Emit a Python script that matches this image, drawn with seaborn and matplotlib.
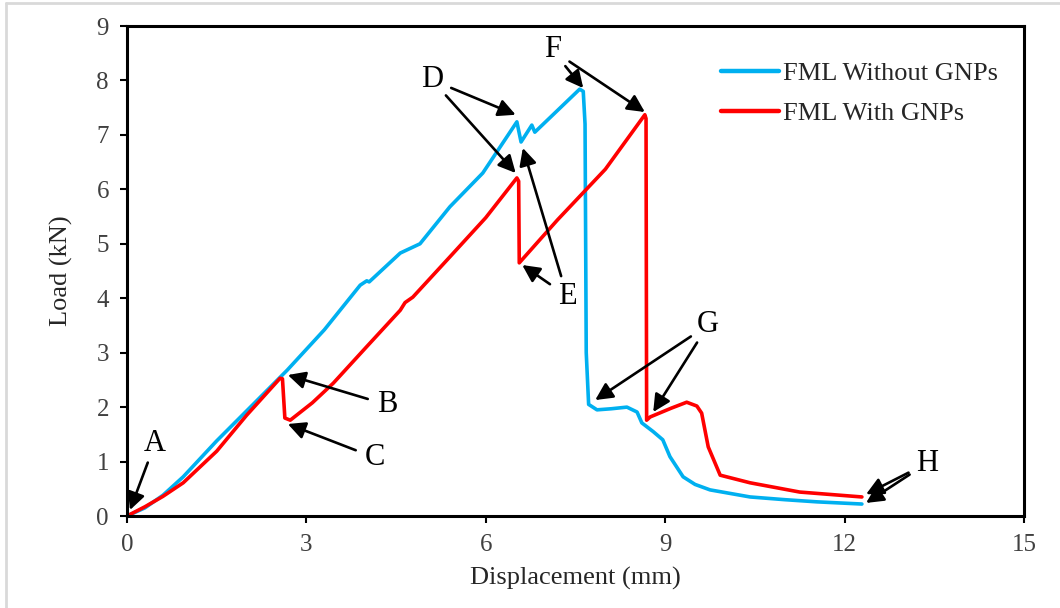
""" Load-displacement curves of FML specimens with and without GNPs """
import matplotlib

matplotlib.use("Agg")
import matplotlib.pyplot as plt
import matplotlib.lines as mlines
import pandas as pd
import seaborn as sns

# Curve points (displacement mm, load kN)
disp_without = [0.0, 0.3, 0.6, 0.94, 1.5, 2.1, 2.68, 3.3, 3.9, 4.01, 4.05, 4.57,
                4.9, 5.40, 5.95, 6.52, 6.59, 6.77, 6.82, 7.2, 7.57, 7.63, 7.66,
                7.68, 7.72, 7.86, 8.10, 8.36, 8.53, 8.61, 8.80, 8.96, 9.08, 9.30,
                9.50, 9.75, 10.42, 11.0, 11.54, 12.29]
load_without = [0.0, 0.15, 0.38, 0.72, 1.38, 2.04, 2.68, 3.42, 4.24, 4.32, 4.30, 4.83,
                5.00, 5.68, 6.30, 7.24, 6.87, 7.18, 7.05, 7.45, 7.84, 7.80, 7.20,
                3.00, 2.05, 1.95, 1.97, 2.00, 1.91, 1.71, 1.55, 1.40, 1.09, 0.72,
                0.58, 0.48, 0.35, 0.30, 0.26, 0.22]

disp_with = [0.0, 0.3, 0.6, 0.94, 1.5, 2.0, 2.56, 2.60, 2.64, 2.73, 3.10, 3.45,
             4.0, 4.57, 4.65, 4.78, 5.40, 6.0, 6.52, 6.55, 6.56, 7.2, 8.0, 8.66,
             8.68, 8.69, 8.75, 9.10, 9.36, 9.53, 9.61, 9.72, 9.92, 10.42, 11.25,
             12.29]
load_with = [0.0, 0.17, 0.36, 0.61, 1.19, 1.85, 2.53, 2.52, 1.80, 1.76, 2.08, 2.44,
             3.10, 3.78, 3.92, 4.02, 4.76, 5.48, 6.21, 6.15, 4.65, 5.44, 6.37, 7.37,
             7.30, 1.76, 1.82, 1.98, 2.09, 2.02, 1.89, 1.27, 0.75, 0.61, 0.44,
             0.35]

series_names = ["FML Without GNPs", "FML With GNPs"]

# Marker letters: (label, text position, arrow tips)
marker_letters = [
    ("A", (0.47, 1.34), [(0.05, 0.11)]),
    ("B", (4.36, 2.04), [(2.69, 2.59)]),
    ("C", (4.15, 1.07), [(2.69, 1.69)]),
    ("D", (5.10, 8.01), [(6.50, 7.37), (6.50, 6.30)]),
    ("E", (7.36, 4.04), [(6.62, 6.76), (6.61, 4.61)]),
    ("F", (7.11, 8.56), [(7.63, 7.86), (8.66, 7.42)]),
    ("G", (9.72, 3.51), [(7.83, 2.13), (8.80, 1.91)]),
    ("H", (13.38, 0.97), [(12.36, 0.40), (12.36, 0.24)]),
]

df = pd.concat([
    pd.DataFrame({"disp": disp_without, "load": load_without, "series": series_names[0]}),
    pd.DataFrame({"disp": disp_with, "load": load_with, "series": series_names[1]}),
], ignore_index=True)

sns.set_style("white")
plt.rcParams["font.family"] = ["Liberation Serif", "DejaVu Serif"]

fig = plt.figure(figsize=(10.6, 6.08), dpi=100)
ax = fig.add_axes([0.1198, 0.1513, 0.8462, 0.8059])

sns.lineplot(
    data=df, x="disp", y="load", hue="series", sort=False, estimator=None,
    palette={series_names[0]: "#00B0F0", series_names[1]: "#FF0000"},
    linewidth=2.6, ax=ax,
)

ax.set_xlim(0, 15)
ax.set_ylim(0, 9)
ax.set_xticks(range(0, 16, 3))
ax.set_yticks(range(0, 10))
ax.tick_params(axis="both", direction="out", length=5, width=1.5, colors="black",
               labelsize=18, labelcolor="#404040", pad=8, bottom=True, left=True,
               right=False, top=False)
for side in ["left", "right", "top", "bottom"]:
    ax.spines[side].set_visible(True)
    ax.spines[side].set_color("black")
    ax.spines[side].set_linewidth(2.2)

ax.set_xlabel("Displacement (mm)", fontsize=19, color="#262626", labelpad=8)
ax.set_ylabel("Load (kN)", fontsize=19, color="#262626", labelpad=17)

leg = ax.legend(loc="upper left", bbox_to_anchor=(0.636, 0.975), frameon=False,
                fontsize=19, handlelength=2.2, handletextpad=0.15, labelspacing=0.6)
for line in leg.get_lines():
    line.set_linewidth(3.2)
for t in leg.get_texts():
    t.set_color("#262626")

for label, text_pos, tips in marker_letters:
    ax.text(text_pos[0], text_pos[1], label, fontsize=22, color="black",
            ha="center", va="center")
    for tip in tips:
        ax.annotate("", xy=tip, xytext=text_pos,
                    arrowprops=dict(arrowstyle="-|>", color="black", lw=1.9,
                                    mutation_scale=26, shrinkA=15, shrinkB=0))

# Light grey frame around the picture
fig.add_artist(mlines.Line2D([0.006, 0.006], [0, 0.995], transform=fig.transFigure,
                             color="#d9d9d9", lw=2))
fig.add_artist(mlines.Line2D([0.006, 1], [0.995, 0.995], transform=fig.transFigure,
                             color="#d9d9d9", lw=2))

fig.savefig("out.png", dpi=100)
plt.close(fig)
